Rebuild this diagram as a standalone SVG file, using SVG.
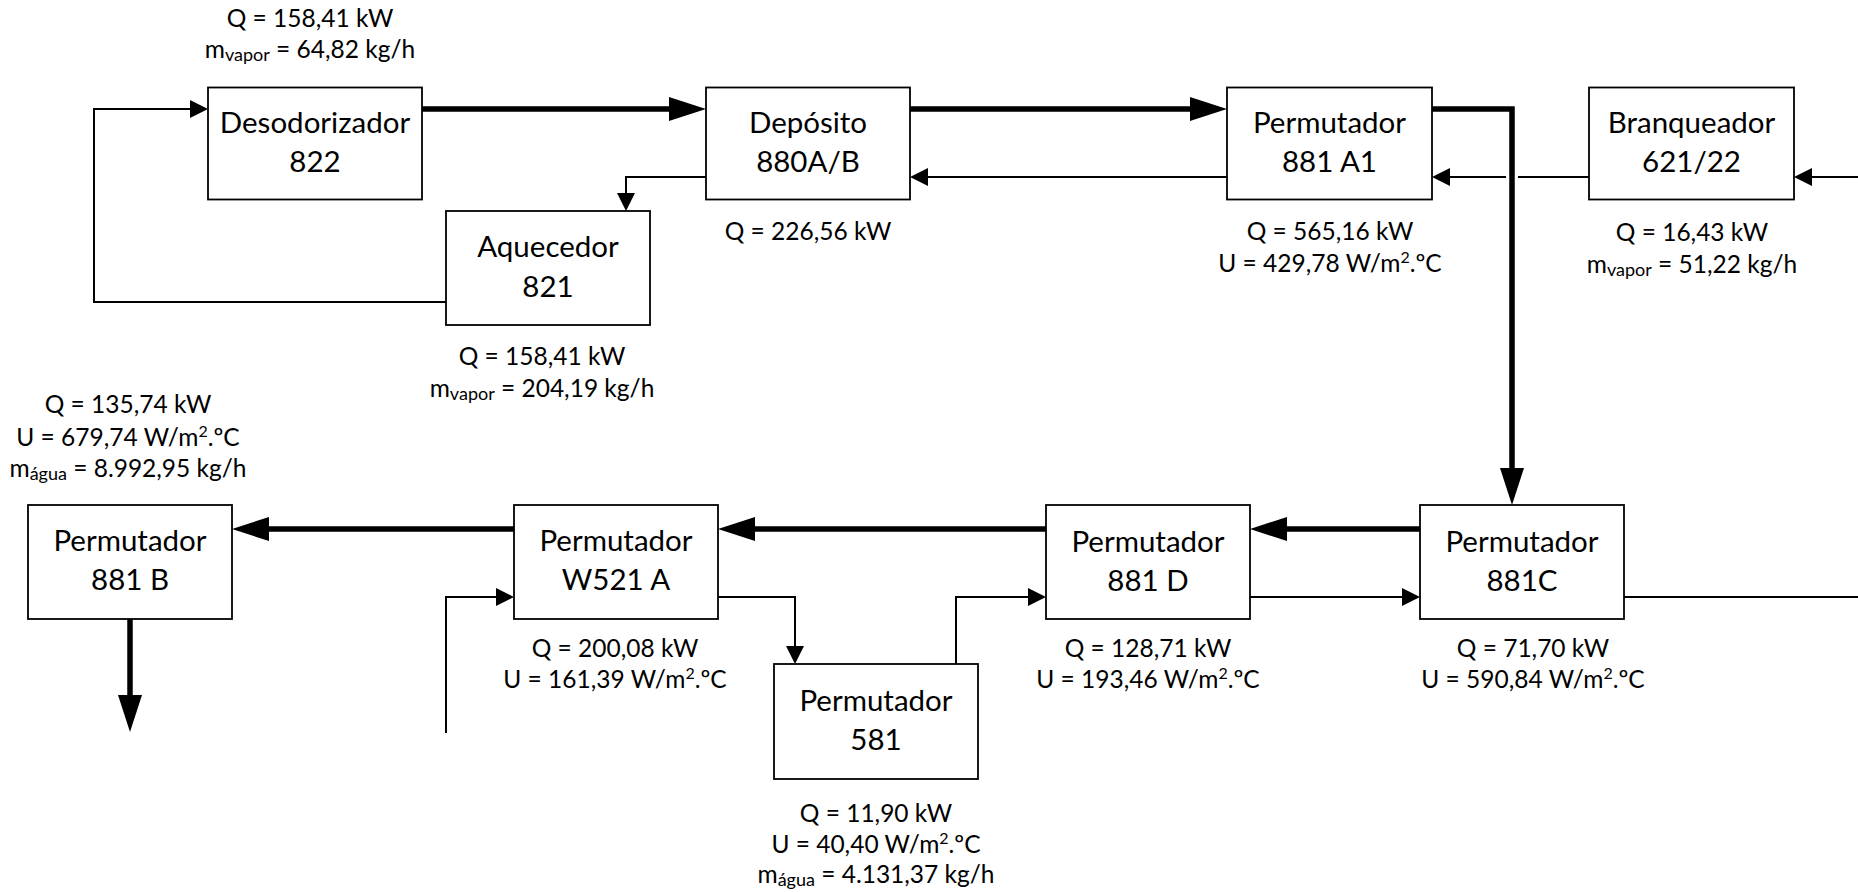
<svg xmlns="http://www.w3.org/2000/svg" width="1858" height="892" viewBox="0 0 1858 892">
<style>
.box{fill:#fff;stroke:#000;stroke-width:1.8}
.bt{font-family:Lato,"Liberation Sans",sans-serif;font-size:29.5px;text-anchor:middle;fill:#000}
.lb{font-family:Lato,"Liberation Sans",sans-serif;font-size:24.5px;text-anchor:middle;fill:#000}
.sub{font-size:18px}
.sup{font-size:16px}
.thick{fill:none;stroke:#000;stroke-width:5.5;stroke-linecap:round;stroke-linejoin:miter}
.thin{fill:none;stroke:#000;stroke-width:2;stroke-linejoin:miter}
</style>
<defs>
<marker id="ah" markerUnits="userSpaceOnUse" markerWidth="37" markerHeight="24" refX="0" refY="12" orient="auto" overflow="visible"><path d="M0,0 L37,12 L0,24 z" fill="#000"/></marker>
<marker id="as" markerUnits="userSpaceOnUse" markerWidth="18" markerHeight="18" refX="0" refY="9" orient="auto" overflow="visible"><path d="M0,0 L18,9 L0,18 z" fill="#000"/></marker>
</defs>
<rect width="1858" height="892" fill="#fff"/>
<g id="connectors">
<path class="thick" d="M422,109 H669" marker-end="url(#ah)"/>
<path class="thick" d="M910,109 H1190" marker-end="url(#ah)"/>
<path class="thick" d="M1432,109 H1512 V468" marker-end="url(#ah)"/>
<path class="thick" d="M1420,529 H1287" marker-end="url(#ah)"/>
<path class="thick" d="M1046,529 H755" marker-end="url(#ah)"/>
<path class="thick" d="M514,529 H269" marker-end="url(#ah)"/>
<path class="thick" d="M130,619 V695" marker-end="url(#ah)"/>
<path class="thin" d="M1227,177 H928" marker-end="url(#as)"/>
<path class="thin" d="M1589,177 H1518"/>
<path class="thin" d="M1506,177 H1450" marker-end="url(#as)"/>
<path class="thin" d="M1858,177 H1812" marker-end="url(#as)"/>
<path class="thin" d="M706,177 H626 V193" marker-end="url(#as)"/>
<path class="thin" d="M446,302 H94 V109 H190" marker-end="url(#as)"/>
<path class="thin" d="M446,733 V597 H496" marker-end="url(#as)"/>
<path class="thin" d="M718,597 H795 V646" marker-end="url(#as)"/>
<path class="thin" d="M956,664 V597 H1028" marker-end="url(#as)"/>
<path class="thin" d="M1250,597 H1402" marker-end="url(#as)"/>
<path class="thin" d="M1624,597 H1858"/>
</g>
<g id="desodorizador">
<rect class="box" x="208" y="87.5" width="214" height="112"/>
<text class="bt" x="315" y="133">Desodorizador</text>
<text class="bt" x="315" y="172">822</text>
<text class="lb" x="310" y="27">Q = 158,41 kW</text>
<text class="lb" x="310" y="58">m<tspan class="sub" dy="3">vapor</tspan><tspan dy="-3"> = 64,82 kg/h</tspan></text>
</g>
<g id="deposito">
<rect class="box" x="706" y="87.5" width="204" height="112"/>
<text class="bt" x="808" y="133">Depósito</text>
<text class="bt" x="808" y="172">880A/B</text>
<text class="lb" x="808" y="240">Q = 226,56 kW</text>
</g>
<g id="permutador-881a1">
<rect class="box" x="1227" y="87.5" width="205" height="112"/>
<text class="bt" x="1329.5" y="133">Permutador</text>
<text class="bt" x="1329.5" y="172">881 A1</text>
<text class="lb" x="1330" y="240">Q = 565,16 kW</text>
<text class="lb" x="1330" y="272">U = 429,78 W/m<tspan class="sup" dy="-9">2</tspan><tspan dy="9">.ºC</tspan></text>
</g>
<g id="branqueador">
<rect class="box" x="1589" y="87.5" width="205" height="112"/>
<text class="bt" x="1691.5" y="133">Branqueador</text>
<text class="bt" x="1691.5" y="172">621/22</text>
<text class="lb" x="1692" y="241">Q = 16,43 kW</text>
<text class="lb" x="1692" y="273">m<tspan class="sub" dy="3">vapor</tspan><tspan dy="-3"> = 51,22 kg/h</tspan></text>
</g>
<g id="aquecedor">
<rect class="box" x="446" y="211" width="204" height="114"/>
<text class="bt" x="548" y="257">Aquecedor</text>
<text class="bt" x="548" y="297">821</text>
<text class="lb" x="542" y="365">Q = 158,41 kW</text>
<text class="lb" x="542" y="397">m<tspan class="sub" dy="3">vapor</tspan><tspan dy="-3"> = 204,19 kg/h</tspan></text>
</g>
<g id="permutador-881b">
<rect class="box" x="28" y="505" width="204" height="114"/>
<text class="bt" x="130" y="551">Permutador</text>
<text class="bt" x="130" y="590">881 B</text>
<text class="lb" x="128" y="413">Q = 135,74 kW</text>
<text class="lb" x="128" y="446">U = 679,74 W/m<tspan class="sup" dy="-9">2</tspan><tspan dy="9">.ºC</tspan></text>
<text class="lb" x="128" y="477">m<tspan class="sub" dy="3">água</tspan><tspan dy="-3"> = 8.992,95 kg/h</tspan></text>
</g>
<g id="permutador-w521a">
<rect class="box" x="514" y="505" width="204" height="114"/>
<text class="bt" x="616" y="551">Permutador</text>
<text class="bt" x="616" y="590">W521 A</text>
<text class="lb" x="615" y="657">Q = 200,08 kW</text>
<text class="lb" x="615" y="688">U = 161,39 W/m<tspan class="sup" dy="-9">2</tspan><tspan dy="9">.ºC</tspan></text>
</g>
<g id="permutador-581">
<rect class="box" x="774" y="664" width="204" height="115"/>
<text class="bt" x="876" y="711">Permutador</text>
<text class="bt" x="876" y="750">581</text>
<text class="lb" x="876" y="822">Q = 11,90 kW</text>
<text class="lb" x="876" y="853">U = 40,40 W/m<tspan class="sup" dy="-9">2</tspan><tspan dy="9">.ºC</tspan></text>
<text class="lb" x="876" y="883">m<tspan class="sub" dy="3">água</tspan><tspan dy="-3"> = 4.131,37 kg/h</tspan></text>
</g>
<g id="permutador-881d">
<rect class="box" x="1046" y="505" width="204" height="114"/>
<text class="bt" x="1148" y="552">Permutador</text>
<text class="bt" x="1148" y="591">881 D</text>
<text class="lb" x="1148" y="657">Q = 128,71 kW</text>
<text class="lb" x="1148" y="688">U = 193,46 W/m<tspan class="sup" dy="-9">2</tspan><tspan dy="9">.ºC</tspan></text>
</g>
<g id="permutador-881c">
<rect class="box" x="1420" y="505" width="204" height="114"/>
<text class="bt" x="1522" y="552">Permutador</text>
<text class="bt" x="1522" y="591">881C</text>
<text class="lb" x="1533" y="657">Q = 71,70 kW</text>
<text class="lb" x="1533" y="688">U = 590,84 W/m<tspan class="sup" dy="-9">2</tspan><tspan dy="9">.ºC</tspan></text>
</g>
</svg>
